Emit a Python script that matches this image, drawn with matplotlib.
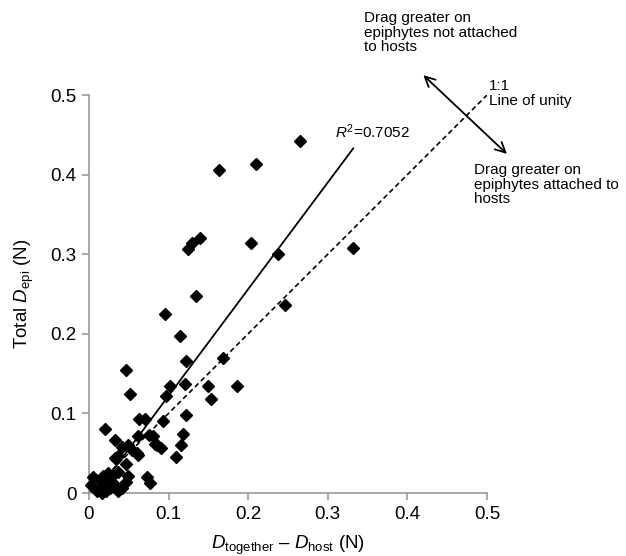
import matplotlib
matplotlib.use("Agg")
import matplotlib.pyplot as plt

plt.rcParams['font.family'] = ['Liberation Sans', 'DejaVu Sans']
plt.rcParams['mathtext.fontset'] = 'custom'
plt.rcParams['mathtext.rm'] = 'Liberation Sans'
plt.rcParams['mathtext.it'] = 'Liberation Sans:italic'

# D_together - D_host (N) vs total D_epi (N)
d_diff = [0.265, 0.163, 0.210, 0.139, 0.129, 0.125, 0.203, 0.238, 0.332, 0.135,
          0.095, 0.115, 0.122, 0.169, 0.047, 0.052, 0.121, 0.102, 0.097, 0.063,
          0.070, 0.093, 0.122, 0.020, 0.033, 0.062, 0.075, 0.081, 0.118, 0.083,
          0.116, 0.042, 0.049, 0.054, 0.062, 0.091, 0.110, 0.033, 0.047, 0.037,
          0.024, 0.005, 0.018, 0.049, 0.073, 0.246, 0.150, 0.186, 0.153, 0.085,
          0.060, 0.037, 0.077, 0.047, 0.037, 0.041, 0.003, 0.010, 0.016, 0.022,
          0.024, 0.014, 0.028, 0.016, 0.026, 0.030]
d_epi = [0.442, 0.406, 0.413, 0.320, 0.314, 0.307, 0.314, 0.300, 0.308, 0.247,
         0.225, 0.197, 0.166, 0.169, 0.155, 0.124, 0.137, 0.134, 0.122, 0.093,
         0.093, 0.090, 0.098, 0.080, 0.067, 0.071, 0.073, 0.071, 0.074, 0.062,
         0.060, 0.058, 0.060, 0.054, 0.048, 0.056, 0.045, 0.044, 0.037, 0.027,
         0.025, 0.020, 0.021, 0.021, 0.020, 0.236, 0.134, 0.134, 0.118, 0.060,
         0.050, 0.046, 0.013, 0.014, 0.002, 0.006, 0.010, 0.002, 0.008, 0.002,
         0.014, 0.016, 0.020, 0.000, 0.006, 0.012]

# fitted regression line (end points) and 1:1 line
fit_x = [0.009, 0.332]
fit_y = [0.0, 0.433]
unity = [0.0, 0.5]

fig = plt.figure(figsize=(6.26, 5.56), dpi=100)
ax = fig.add_axes([0.142, 0.1133, 0.636, 0.7158])

ax.plot(d_diff, d_epi, 'D', color='black', markersize=6.3, clip_on=False, zorder=3)
ax.plot(fit_x, fit_y, '-', color='black', lw=1.3)
ax.plot(unity, unity, '--', color='black', lw=1.2, dashes=(3, 2))

ax.set_xlim(0, 0.5)
ax.set_ylim(0, 0.5)
ticks = [0, 0.1, 0.2, 0.3, 0.4, 0.5]
labels = ['0', '0.1', '0.2', '0.3', '0.4', '0.5']
ax.set_xticks(ticks)
ax.set_xticklabels(labels)
ax.set_yticks(ticks)
ax.set_yticklabels(labels)

for s in ['top', 'right']:
    ax.spines[s].set_visible(False)
for s in ['left', 'bottom']:
    ax.spines[s].set_color('#999999')
    ax.spines[s].set_linewidth(1.2)
ax.tick_params(direction='out', length=5, width=1.2, color='#999999',
               labelsize=13.5, pad=4)

ax.set_xlabel(r'$D_{\mathrm{together}}$ – $D_{\mathrm{host}}$ (N)', fontsize=13.5, labelpad=8)
ax.set_ylabel(r'Total $D_{\mathrm{epi}}$ (N)', fontsize=13.5, labelpad=10)

ax.text(0.309, 0.442, r'$R^2$=0.7052', fontsize=11, ha='left', va='bottom')

ax.annotate('', xy=(0.420, 0.525), xytext=(0.525, 0.426),
            arrowprops=dict(arrowstyle='<->', color='black', lw=1.3,
                            mutation_scale=18, shrinkA=0, shrinkB=0),
            annotation_clip=False)

fig.text(364 / 626, 1 - 11 / 556,
         'Drag greater on\nepiphytes not attached\nto hosts',
         fontsize=11, ha='left', va='top', linespacing=1.05)
fig.text(489 / 626, 1 - 79 / 556, '1:1\nLine of unity',
         fontsize=11, ha='left', va='top', linespacing=1.05)
fig.text(474 / 626, 1 - 163 / 556,
         'Drag greater on\nepiphytes attached to\nhosts',
         fontsize=11, ha='left', va='top', linespacing=1.05)

fig.savefig('out.png', dpi=100)
